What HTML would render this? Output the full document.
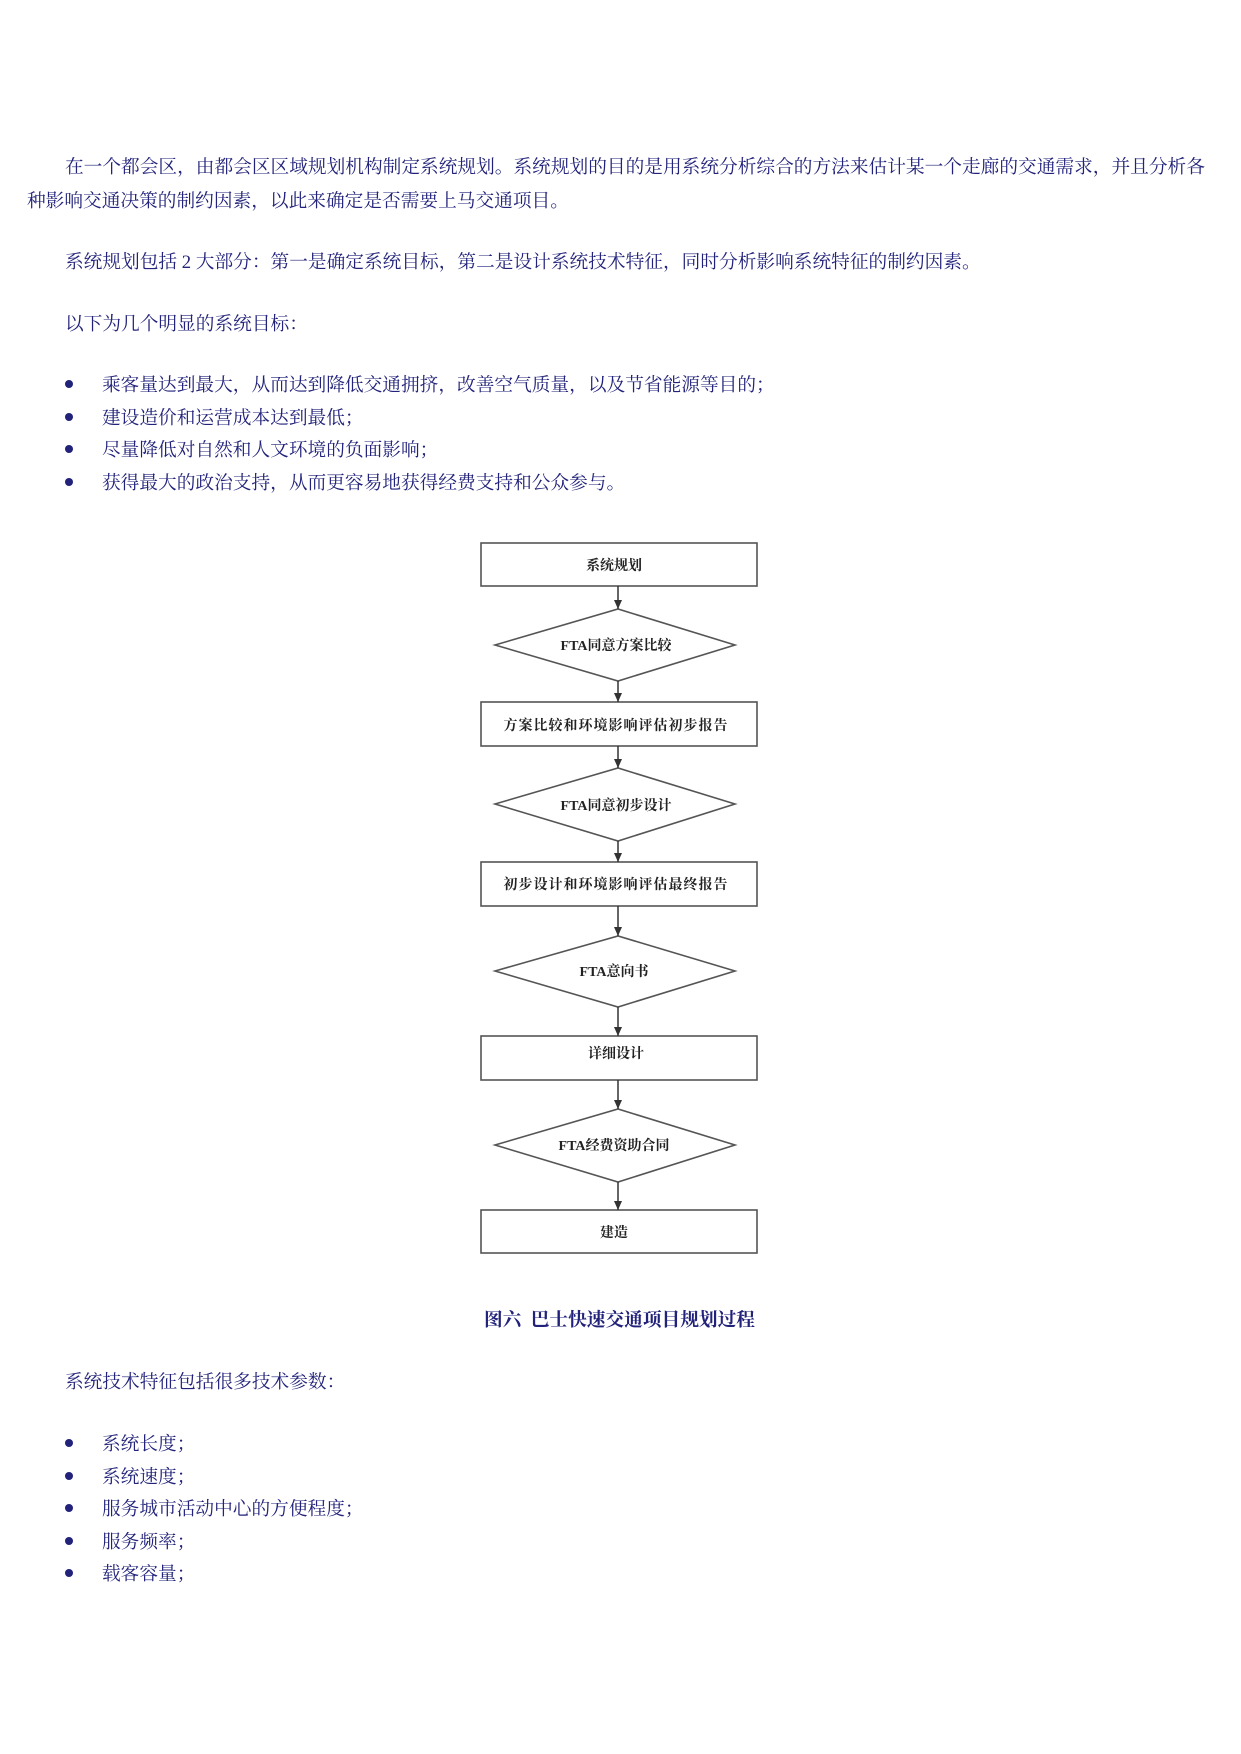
<!DOCTYPE html>
<html><head><meta charset="utf-8"><style>
body{margin:0;width:1241px;height:1754px;background:#fff;position:relative;overflow:hidden}
.t{position:absolute;white-space:nowrap;font-family:"Liberation Serif","Noto Serif CJK SC",serif;font-size:18.7px;color:#22227a;line-height:24px}
.b{position:absolute;width:8px;height:8px;border-radius:50%;background:#22227a}
</style></head><body>
<div class="t" style="left:65px;top:156px">在一个都会区，由都会区区域规划机构制定系统规划。系统规划的目的是用系统分析综合的方法来估计某一个走廊的交通需求，并且分析各</div>
<div class="t" style="left:27px;top:190px">种影响交通决策的制约因素，以此来确定是否需要上马交通项目。</div>
<div class="t" style="left:65px;top:251px">系统规划包括 2 大部分：第一是确定系统目标，第二是设计系统技术特征，同时分析影响系统特征的制约因素。</div>
<div class="t" style="left:65px;top:313px">以下为几个明显的系统目标：</div>
<div class="b" style="left:65px;top:380px"></div><div class="t" style="left:102px;top:374px">乘客量达到最大，从而达到降低交通拥挤，改善空气质量，以及节省能源等目的；</div>
<div class="b" style="left:65px;top:413px"></div><div class="t" style="left:102px;top:407px">建设造价和运营成本达到最低；</div>
<div class="b" style="left:65px;top:445px"></div><div class="t" style="left:102px;top:439px">尽量降低对自然和人文环境的负面影响；</div>
<div class="b" style="left:65px;top:478px"></div><div class="t" style="left:102px;top:472px">获得最大的政治支持，从而更容易地获得经费支持和公众参与。</div>

<svg style="position:absolute;left:0;top:0" width="1241" height="1300">
<defs><marker id="a" markerWidth="9" markerHeight="8" refX="9" refY="4" orient="auto" markerUnits="userSpaceOnUse"><path d="M0,0 L9,4 L0,8 z" fill="#333"/></marker></defs>
<g fill="#fff" stroke="#555" stroke-width="1.6">
<rect x="481" y="543" width="276" height="43"/>
<polygon points="495,645 618,609 735,645 618,681"/>
<rect x="481" y="702" width="276" height="44"/>
<polygon points="495,804 618,768 735,804 618,841"/>
<rect x="481" y="862" width="276" height="44"/>
<polygon points="495,971 618,936 735,971 618,1007"/>
<rect x="481" y="1036" width="276" height="44"/>
<polygon points="495,1145 618,1109 735,1145 618,1182"/>
<rect x="481" y="1210" width="276" height="43"/>
</g>
<g stroke="#333" stroke-width="1.5" marker-end="url(#a)">
<line x1="618" y1="586" x2="618" y2="609"/>
<line x1="618" y1="681" x2="618" y2="702"/>
<line x1="618" y1="746" x2="618" y2="768"/>
<line x1="618" y1="841" x2="618" y2="862"/>
<line x1="618" y1="906" x2="618" y2="936"/>
<line x1="618" y1="1007" x2="618" y2="1036"/>
<line x1="618" y1="1080" x2="618" y2="1109"/>
<line x1="618" y1="1182" x2="618" y2="1210"/>
</g>
<g font-family="Liberation Serif, Noto Serif CJK SC, serif" font-size="14" fill="#222" text-anchor="middle" font-weight="bold">
<text x="614" y="570">系统规划</text>
<text x="616" y="650">FTA同意方案比较</text>
<text x="616" y="730" letter-spacing="1">方案比较和环境影响评估初步报告</text>
<text x="616" y="810">FTA同意初步设计</text>
<text x="616" y="889" letter-spacing="1">初步设计和环境影响评估最终报告</text>
<text x="614" y="976">FTA意向书</text>
<text x="616" y="1058">详细设计</text>
<text x="614" y="1150">FTA经费资助合同</text>
<text x="614" y="1237">建造</text>
</g>
</svg>
<div class="t" style="left:484px;top:1309px;font-weight:bold">图六&nbsp; 巴士快速交通项目规划过程</div>
<div class="t" style="left:65px;top:1371px">系统技术特征包括很多技术参数：</div>
<div class="b" style="left:65px;top:1439px"></div><div class="t" style="left:102px;top:1433px">系统长度；</div>
<div class="b" style="left:65px;top:1472px"></div><div class="t" style="left:102px;top:1466px">系统速度；</div>
<div class="b" style="left:65px;top:1504px"></div><div class="t" style="left:102px;top:1498px">服务城市活动中心的方便程度；</div>
<div class="b" style="left:65px;top:1537px"></div><div class="t" style="left:102px;top:1531px">服务频率；</div>
<div class="b" style="left:65px;top:1569px"></div><div class="t" style="left:102px;top:1563px">载客容量；</div>
</body></html>
